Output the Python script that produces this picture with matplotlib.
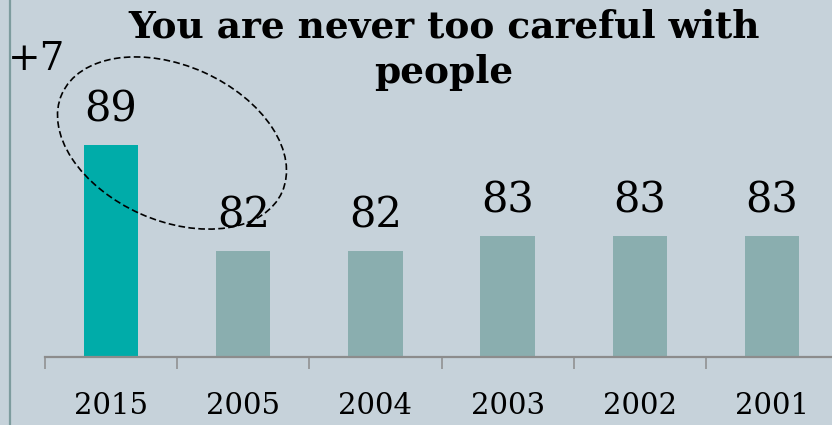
import matplotlib.pyplot as plt
import numpy as np
from matplotlib.patches import Ellipse
from matplotlib.transforms import IdentityTransform
from matplotlib.lines import Line2D

# =====================================
# Data
# =====================================
years = ['2015', '2005', '2004', '2003', '2002', '2001']
values = [89, 82, 82, 83, 83, 83]
highlight = '2015'
change_label = '+7'
title = 'You are never too careful with\npeople'

# =====================================
# Style
# =====================================
bg = '#c6d2da'
teal = '#00aca9'
grey_teal = '#8aaeaf'
axis_grey = '#8c8c8c'
plt.rcParams['font.family'] = ['DejaVu Serif']

fig = plt.figure(figsize=(8.32, 4.25), dpi=100, facecolor=bg)
ax = fig.add_axes([45 / 832, 68 / 425, 793 / 832, 357 / 425])
ax.set_facecolor(bg)

x = np.arange(len(years))
colors = [teal if y == highlight else grey_teal for y in years]
bars = ax.bar(x, values, width=0.41, color=colors)

# value labels
for xi, v in zip(x, values):
    ax.text(xi, v + 1.55, str(v), ha='center', va='baseline', fontsize=30)

ax.set_xlim(-0.5, len(years) - 0.5)
ax.set_ylim(75, 98.6)

# ticks between categories, labels at centres
ax.set_xticks(np.arange(-0.5, len(years) + 0.5, 1.0))
ax.set_xticklabels([])
ax.set_xticks(x, minor=True)
ax.set_xticklabels(years, minor=True, fontsize=21)
ax.tick_params(axis='x', which='major', length=8.6, width=1.1,
               color=axis_grey, direction='out')
ax.tick_params(axis='x', which='minor', length=0, pad=25)
ax.set_yticks([])

for s in ['top', 'right', 'left']:
    ax.spines[s].set_visible(False)
ax.spines['bottom'].set_color(axis_grey)
ax.spines['bottom'].set_linewidth(1.6)

# title
fig.text(444 / 832, 1 - 8 / 425, title, ha='center', va='top',
         fontsize=27, fontweight='bold', linespacing=1.3)

# change annotation and ellipse
fig.text(8 / 832, 1 - 60 / 425, change_label, ha='left', va='center',
         fontsize=28)
ell = Ellipse((172, 425 - 143), 241, 155, angle=-24,
              transform=IdentityTransform(), fill=False,
              edgecolor='black', linestyle=(0, (4, 2)), linewidth=1.2)
fig.patches.append(ell)

# left border line
fig.lines.append(Line2D([10 / 832, 10 / 832], [0, 1],
                        transform=fig.transFigure,
                        color='#7d9c9e', linewidth=1.6))

plt.savefig('out.png', dpi=100, facecolor=bg)
